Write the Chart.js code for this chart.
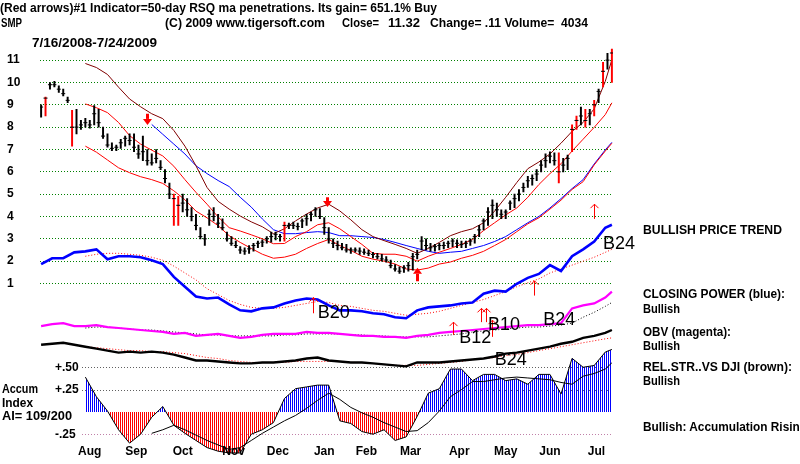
<!DOCTYPE html>
<html>
<head>
<meta charset="utf-8">
<script src="https://cdn.jsdelivr.net/npm/chart.js"></script>
<style>
html,body{margin:0;padding:0;background:#fff;overflow:hidden;}
#wrap{position:relative;width:800px;height:464px;overflow:hidden;background:#fff;}
#c{position:absolute;left:0;top:0;}
.t{position:absolute;font:bold 12px "Liberation Sans",Arial,sans-serif;line-height:14px;white-space:pre;transform-origin:0 0;color:#000;}
</style>
</head>
<body>
<div id="wrap">
<canvas id="c" width="800" height="464"></canvas>
<div class="t" style="left:0px;top:1px" data-w="437">(Red arrows)#1 Indicator=50-day RSQ ma penetrations. Its gain= 651.1% Buy</div>
<div class="t" style="left:1px;top:16px" data-w="21">SMP</div>
<div class="t" style="left:165px;top:16px" data-w="160">(C) 2009 www.tigersoft.com</div>
<div class="t" style="left:342px;top:16px" data-w="37">Close=</div>
<div class="t" style="left:388px;top:16px" data-w="32">11.32</div>
<div class="t" style="left:430px;top:16px" data-w="158">Change= .11 Volume=  4034</div>
<div class="t" style="left:32px;top:36px" data-w="125">7/16/2008-7/24/2009</div>
<div class="t" style="left:2px;top:382px" data-w="36">Accum</div>
<div class="t" style="left:2px;top:396px" data-w="31">Index</div>
<div class="t" style="left:2px;top:409px" data-w="70">AI= 109/200</div>
<div class="t" style="left:643px;top:223px" data-w="139">BULLISH PRICE TREND</div>
<div class="t" style="left:643px;top:287px" data-w="142">CLOSING POWER (blue):</div>
<div class="t" style="left:643px;top:302px" data-w="37">Bullish</div>
<div class="t" style="left:643px;top:325px" data-w="88">OBV (magenta):</div>
<div class="t" style="left:643px;top:339px" data-w="37">Bullish</div>
<div class="t" style="left:643px;top:360px" data-w="149">REL.STR..VS DJI (brown):</div>
<div class="t" style="left:643px;top:374px" data-w="37">Bullish</div>
<div class="t" style="left:643px;top:420px" data-w="164">Bullish: Accumulation Rising</div>
</div>
<script>
// ---------- DATA ----------
// trading-day index (0 = 7/16/2008, 258 = 7/24/2009), one bar every 2 sessions
const barDays = [0,2,4,6,8,10,12,14,16,18,20,22,24,26,28,30,32,34,36,38,40,42,44,46,48,50,52,54,56,58,60,62,64,66,68,70,72,74,76,78,80,82,84,86,88,90,92,94,96,98,100,102,104,106,108,110,112,114,116,118,120,122,124,126,128,130,132,134,136,138,140,142,144,146,148,150,152,154,156,158,160,162,164,166,168,170,172,174,176,178,180,182,184,186,188,190,192,194,196,198,200,202,204,206,208,210,212,214,216,218,220,222,224,226,228,230,232,234,236,238,240,242,244,246,248,250,252,254,256,258];
const high = [9.0,9.35,10.0,10.05,9.85,9.7,9.35,8.75,8.8,8.3, 8.4,8.3,8.97,8.8,8.0,7.7,7.3,7.2,7.45,7.6, 7.7,7.7,7.2,7.6,7.0,6.8,7.0,6.5,6.1,5.5, 5.0,4.9,5.0,4.8,4.4,4.1,3.5,3.2,4.3,4.4, 4.1,3.9,3.3,3.1,2.9,2.65,2.6,2.7,2.8,2.9, 2.95,3.1,3.3,3.3,3.2,3.75,3.7,3.75,3.7,3.9, 4.1,4.2,4.4,4.35,3.95,3.5,3.0,2.9,2.8,2.75, 2.6,2.6,2.6,2.55,2.5,2.4,2.35,2.3,2.2,2.05, 1.85,1.75,1.8,1.95,2.35,2.5,3.1,3.0,2.8,2.75, 2.8,2.85,2.9,3.0,2.95,2.9,2.9,3.0,3.2,3.6, 3.9,4.4,4.75,4.6,4.3,4.3,4.7,5.0,5.2,5.5, 5.8,5.87,6.1,6.5,6.8,6.9,6.85,6.85,6.6,6.75, 8.1,8.5,8.9,8.8,8.8,9.2,9.7,10.9,11.3,11.5];
const low = [8.45,8.5,9.7,9.8,9.55,9.4,9.1,7.15,7.7,7.9, 8.0,7.95,8.1,8.0,7.5,7.1,6.95,6.95,7.05,7.15, 7.2,6.9,6.6,6.5,6.3,6.3,6.4,6.1,5.5,4.8, 3.6,3.6,4.2,4.0,3.8,3.4,3.0,2.7,3.6,3.8, 3.5,3.4,2.9,2.7,2.6,2.35,2.3,2.35,2.45,2.6, 2.65,2.8,2.85,2.95,2.9,2.9,3.45,3.45,3.4,3.5, 3.6,3.8,4.0,3.9,3.2,2.8,2.6,2.5,2.5,2.4, 2.35,2.4,2.3,2.3,2.25,2.15,2.1,2.0,1.95,1.7, 1.55,1.45,1.5,1.55,1.6,2.1,2.5,2.5,2.45,2.45, 2.5,2.55,2.6,2.65,2.6,2.6,2.6,2.7,2.8,3.1, 3.4,3.6,3.9,4.0,3.9,3.9,4.3,4.4,4.7,5.1, 5.3,5.4,5.6,6.0,6.2,6.4,6.3,5.5,6.0,6.1, 6.9,7.9,8.1,8.0,8.1,8.5,9.1,9.8,10.6,10.0];
const close = [8.9,9.3,9.9,9.9,9.7,9.5,9.2,8.0,8.0,8.1, 8.2,8.1,8.6,8.2,7.6,7.2,7.05,7.1,7.3,7.5, 7.4,7.1,6.8,6.9,6.5,6.4,6.6,6.2,5.7,5.0, 4.8,4.5,4.6,4.3,4.0,3.6,3.1,3.0,4.1,4.0, 3.7,3.5,3.0,2.8,2.7,2.5,2.45,2.55,2.7,2.8, 2.85,3.0,3.1,3.2,3.1,3.6,3.6,3.6,3.55,3.8, 3.9,4.1,4.3,4.0,3.5,3.0,2.8,2.7,2.6,2.5, 2.5,2.5,2.45,2.4,2.35,2.3,2.2,2.1,2.05,1.8, 1.65,1.55,1.7,1.8,2.2,2.3,2.9,2.7,2.6,2.65, 2.7,2.7,2.8,2.9,2.8,2.75,2.8,2.9,3.1,3.4, 3.8,4.2,4.5,4.3,4.1,4.2,4.6,4.8,5.0,5.3, 5.6,5.7,5.9,6.3,6.5,6.7,6.5,6.0,6.3,6.6, 7.9,8.3,8.5,8.3,8.6,9.0,9.6,10.5,11.0,11.32];
const redBarDays = [2,14,60,62,110,234,240,242,246,250,254,258];

const lineDays = [0,5,10,15,20,25,30,35,40,45,50,55,60,65,70,75,80,85,90,95,100,105,110,115,120,125,130,135,140,145,150,155,160,165,170,175,180,185,190,195,200,205,210,215,220,225,230,235,240,245,250,255,258];
const maBrown = [null,null,null,null, 10.85,10.67,10.36,9.79,9.26,8.91,8.60,8.38,7.85,7.15,6.27,5.30,4.68,4.33,4.02,3.76,3.54,3.23,3.45,3.80,4.11,4.38,4.55,4.25,3.85,3.41,3.10,2.92,2.75,2.57,2.35,2.57,2.84,3.14,3.32,3.45,3.72,4.24,4.86,5.52,6.14,6.44,6.80,7.28,7.81,8.21,8.82,10.05,11.02];
const maRedUpper = [null,null,null,null, 9.04,8.87,8.65,8.21,7.62,7.24,6.97,6.71,6.25,5.65,5.08,4.55,3.98,3.50,3.35,3.18,3.00,2.78,2.79,3.10,3.32,3.63,3.72,3.45,3.10,2.75,2.35,2.31,2.31,2.22,2.00,2.22,2.40,2.57,2.75,2.97,3.37,3.72,4.07,4.38,4.86,5.43,5.92,6.36,6.93,7.46,7.99,8.56,9.09];
const maRedLower = [null,null,null,null, 7.15,6.88,6.53,6.18,5.96,5.78,5.65,5.48,5.15,4.75,4.24,3.94,3.59,3.14,2.84,2.57,2.31,2.13,2.18,2.31,2.57,2.79,2.97,2.70,2.48,2.22,2.09,2.00,1.87,1.65,1.60,1.69,1.87,1.96,2.13,2.26,2.44,2.70,2.97,3.32,3.67,3.94,4.33,4.73,5.21,5.56,6.31,6.93,7.28];
const maBlue = [null,null,null,null,null,null,null,null,null,null, 8.12,7.68,7.24,6.80,6.27,5.92,5.61,5.34,4.86,4.42,3.89,3.41,3.23,3.23,3.28,3.32,3.28,3.14,3.14,3.10,3.06,2.97,2.84,2.70,2.57,2.44,2.35,2.40,2.44,2.57,2.70,2.88,3.10,3.41,3.72,4.00,4.38,4.80,5.25,5.65,6.35,6.98,7.32];

const closingPower = [62,68,68,74,75,77,67,70,70,69, 66,62,49,39,29,27,28,21,15,14, 17,18,22,25,27,26,20,15,15,14, 12,11,8,7,15,18,19,20,22,23, 32,35,34,42,48,52,61,55,70,77, 85,99,102];
const closingPowerMA = [null,null,null,null, 70,72,73,73,72,71,69,66,60,53, 46,37,31,25,21,18,17,17,18,20, 22,24,23,20,19,17,15,14,12,10, 11,12,14,17,20,23,26,30,34,39, 43,47,53,57,61,65,69,74,77];
const obv = [19,21,22,19,19,20,18,17,16,15, 14,13,11,12,9,10,11,9,7,8, 10,11,11,11,13,12,12,11,10,9, 9,8,8,7,9,10,12,13,14,15, 16,17,18,19,20,20,21,22,37,40, 42,48,54];
const obvMA = [null,null,null,null, 17,18,18,17,16,15,15,14,13,12, 11,10,10,9,9,9,9,9,10,10, 11,11,11,11,10,10,9,9,8,8, 8,8,9,10,11,13,14,15,16,17, 18,18,19,20,22,28,33,39,43];
const relStr = [30,31,32,30,28,26,24,22,23,22, 23,22,20,17,14,14,13,12,11,11, 12,12,13,14,16,17,14,13,12,12, 11,10,9,8,12,12,12,13,14,15, 16,18,21,22,24,26,28,31,33,37, 39,42,45];
const relStrMA = [null,null,null,null, 28,27,26,25,24,24,23,23,22,21, 19,17,16,14,13,12,12,12,12,13, 13,13,13,13,12,12,11,10,9,9, 9,10,11,12,13,15,16,17,19,20, 22,24,26,28,30,32,34,36,37];
const accumIndex = [null,null,null,null, 0.39,0.17,0.01,-0.20,-0.35,-0.25,-0.06,0.06,-0.15,-0.24, -0.32,-0.40,-0.44,-0.46,-0.46,-0.25,-0.20,-0.12,0.15,0.26, 0.28,0.30,0.30,-0.10,-0.13,-0.22,-0.25,-0.20,-0.32,-0.28, -0.05,0.21,0.26,0.48,0.48,0.35,0.42,0.42,0.35,0.37, 0.31,0.42,0.42,0.20,0.60,0.50,0.52,0.67,0.70];
const accumMA = [null,null,null,null,null,null,null,null,null,null, -0.24,-0.20,-0.15,-0.20,-0.26,-0.32,-0.37,-0.42,-0.40,-0.32,-0.24,-0.17,-0.10,-0.04,0.04,0.13,0.21,0.14,0.05,-0.01,-0.06,-0.12,-0.17,-0.22,-0.21,-0.12,0.01,0.17,0.25,0.34,0.34,0.36,0.38,0.39,0.38,0.37,0.36,0.33,0.31,0.40,0.43,0.48,0.55];

const priceTicks = [1,2,3,4,5,6,7,8,9,10,11];
const accumTicks = [0.5,0.25,-0.25];
const monthDays = [22,43,64,87,107,128,147,167,189,210,230,251];
const monthNames = ['Aug','Sep','Oct','Nov','Dec','Jan','Feb','Mar','Apr','May','Jun','Jul'];
// [day, tail price, tip price]
const bigArrows = [[48,8.6,8.1],[129,4.86,4.42],[170,1.1,1.7]];
// [day, tail, tip] on closing-power scale
const thinArrows = [[123,12,28],[186,-10,3],[199,3,17],[201,3,17],[204,-12,5],[223,30,45],[250,108,123]];
// [text, day, closing-power level]
const signalLabels = [['B20',125,12],['B12',189,-13],['B10',202,0],['B24',227,5],['B24',205,-36],['B24',254,82]];

// ---------- BUILD ----------
const FONT = '"Liberation Sans", Arial, sans-serif';
const pts = (days, vals) => days.map((d,i)=>({x:d, y:vals[i]}));
const canvas = document.getElementById('c');
const ctx0 = canvas.getContext('2d');
function stripe(color){
  const c=document.createElement('canvas'); c.width=2; c.height=2;
  const g=c.getContext('2d'); g.fillStyle=color; g.fillRect(0,0,1,2);
  return ctx0.createPattern(c,'repeat');
}
const bluePat = stripe('#0000ff'), redPat = stripe('#ff0000');

const overlay = {
  id:'overlay',
  beforeDatasetsDraw(chart){
    const {ctx, chartArea:a, scales:s} = chart;
    ctx.save(); ctx.lineWidth=1; ctx.setLineDash([1,2]);
    accumTicks.forEach(v=>{
      const y=Math.round(s.yA.getPixelForValue(v))+0.5;
      ctx.strokeStyle = v<0 ? '#c080a8' : '#606060';
      ctx.beginPath(); ctx.moveTo(a.left+42,y); ctx.lineTo(a.right,y); ctx.stroke();
    });
    ctx.restore();
  },
  afterDatasetsDraw(chart){
    const {ctx, chartArea:a, scales:s} = chart;
    ctx.save();
    ctx.fillStyle='#000'; ctx.font='bold 12px '+FONT; ctx.textBaseline='middle'; ctx.textAlign='left';
    accumTicks.forEach(v=>{
      const lbl=(v>0?'+':'-')+Math.abs(v).toFixed(2).slice(1);
      ctx.fillText(lbl, a.left+15, s.yA.getPixelForValue(v));
    });
    ctx.textAlign='center'; ctx.textBaseline='alphabetic';
    monthDays.forEach((d,i)=>ctx.fillText(monthNames[i], s.x.getPixelForValue(d), a.bottom-2));
    ctx.fillStyle='#ff0000'; ctx.strokeStyle='#ff0000';
    bigArrows.forEach(([d,from,to])=>{
      const x=Math.round(s.x.getPixelForValue(d));
      const y1=s.yP.getPixelForValue(from), y2=s.yP.getPixelForValue(to);
      const dir = y2>y1?1:-1;
      const yh = y2-dir*6;
      ctx.fillRect(x-1, Math.min(y1,yh), 3, Math.abs(yh-y1));
      ctx.beginPath(); ctx.moveTo(x-4, yh); ctx.lineTo(x+5, yh); ctx.lineTo(x+0.5, y2); ctx.closePath(); ctx.fill();
    });
    ctx.lineWidth=1;
    thinArrows.forEach(([d,from,to])=>{
      const x=Math.round(s.x.getPixelForValue(d))+0.5;
      const y1=s.yC.getPixelForValue(from), y2=s.yC.getPixelForValue(to);
      ctx.beginPath(); ctx.moveTo(x,y1); ctx.lineTo(x,y2);
      ctx.moveTo(x-4,y2+4); ctx.lineTo(x,y2); ctx.lineTo(x+4,y2+4); ctx.stroke();
    });
    ctx.fillStyle='#000'; ctx.font='18px '+FONT; ctx.textAlign='left'; ctx.textBaseline='middle';
    signalLabels.forEach(([t,d,v])=>ctx.fillText(t, s.x.getPixelForValue(d), s.yC.getPixelForValue(v)));
    ctx.restore();
  }
};

const thinLine = (data, color, yID, dash, w) => ({type:'line', data, yAxisID:yID, borderColor:color, borderWidth:w||1, borderDash:dash||[], pointRadius:0, fill:false, tension:0, spanGaps:false});

new Chart(canvas, {
  type:'line',
  data:{datasets:[
    {type:'line', data:pts(barDays, close), yAxisID:'yP', showLine:false, pointStyle:'line', pointRadius:2, pointBorderWidth:1, pointBorderColor:'#000', pointBackgroundColor:'#000'},
    {type:'bar', data:barDays.map((d,i)=>({x:d, y:[low[i], high[i]]})), yAxisID:'yP', barThickness:1.3, grouped:false,
      backgroundColor:(c)=> (c.raw && redBarDays.includes(c.raw.x)) ? '#ff0000' : '#000'},
    thinLine(pts(lineDays, maBrown), '#800000', 'yP'),
    thinLine(pts(lineDays, maRedUpper), '#ff0000', 'yP'),
    thinLine(pts(lineDays, maRedLower), '#ff0000', 'yP'),
    thinLine(pts(lineDays, maBlue), '#0000ff', 'yP'),
    thinLine(pts(lineDays, closingPower), '#0000ff', 'yC', [], 2.6),
    thinLine(pts(lineDays, closingPowerMA), '#ff0000', 'yC', [1,2], 1),
    thinLine(pts(lineDays, obv), '#ff00ff', 'yO', [], 2.2),
    thinLine(pts(lineDays, obvMA), '#000000', 'yO', [1,2], 1),
    thinLine(pts(lineDays, relStr), '#000000', 'yR', [], 2.4),
    thinLine(pts(lineDays, relStrMA), '#ff0000', 'yR', [1,2], 1),
    thinLine(pts(lineDays, accumMA), '#000000', 'yA', [], 1),
    {type:'line', data:pts(lineDays, accumIndex), yAxisID:'yA', borderColor:'#000', borderWidth:1, pointRadius:0, tension:0,
      fill:{target:{value:0}, above:bluePat, below:redPat}, backgroundColor:bluePat}
  ]},
  options:{
    responsive:false, animation:false, devicePixelRatio:1,
    layout:{padding:{left:7, right:187, top:40, bottom:0}},
    plugins:{legend:{display:false}, tooltip:{enabled:false}},
    scales:{
      x:{type:'linear', min:-0.5, max:258.5, display:false, offset:false},
      yP:{type:'linear', position:'left', min:-6.76, max:11.902,
        afterFit(sc){ sc.width = 33; },
        afterBuildTicks(sc){ sc.ticks = priceTicks.map(v=>({value:v})); },
        ticks:{crossAlign:'far', autoSkip:false, color:'#000', padding:0, font:{family:FONT, size:12, weight:'bold'}},
        grid:{color:'#008000', lineWidth:1, drawTicks:false},
        border:{display:false, dash:[1,2]}},
      yC:{type:'linear', display:false, min:-134, max:290},
      yO:{type:'linear', display:false, min:-114, max:310},
      yR:{type:'linear', display:false, min:-84, max:340},
      yA:{type:'linear', display:false, min:-0.503, max:4.166}
    }
  },
  plugins:[overlay]
});

document.querySelectorAll('.t[data-w]').forEach(el=>{
  const w = el.getBoundingClientRect().width;
  if (w>0) el.style.transform = 'scaleX(' + (parseFloat(el.dataset.w)/w) + ')';
});
</script>
</body>
</html>
